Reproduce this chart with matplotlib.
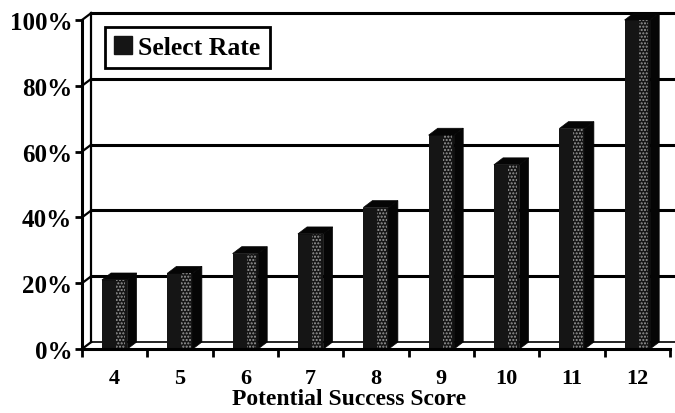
import matplotlib
matplotlib.use('Agg')
import matplotlib.pyplot as plt
from matplotlib.patches import Rectangle, Polygon, Patch

plt.rcParams['font.family'] = ['Liberation Serif', 'DejaVu Serif']
plt.rcParams['font.weight'] = 'bold'

scores = ['4', '5', '6', '7', '8', '9', '10', '11', '12']
select_rate = [21, 23, 29, 35, 43, 65, 56, 67, 100]
grid_levels = [0, 20, 40, 60, 80, 100]

# 3-D look: bar width and the depth offset of the back wall
w = 0.39
dx, dy = 0.14, 2.1

fig = plt.figure(figsize=(6.75, 4.14), dpi=100)
ax = fig.add_axes([82/675, 64/414, 588/675, 329/414])
n = len(scores)
ax.set_xlim(-0.5, n - 0.5)
ax.set_ylim(0, 100)

# back wall, left wall and floor
x0 = -0.5
for g in grid_levels:
    ax.plot([x0 + dx, n - 0.5 + dx + 0.3], [g + dy, g + dy], color='black',
            lw=2.2 if g else 1.2, clip_on=False, zorder=1)
    ax.plot([x0, x0 + dx], [g, g + dy], color='black', lw=1.6,
            clip_on=False, zorder=1)
ax.plot([x0 + dx, x0 + dx], [dy, 100 + dy], color='black', lw=1.6,
        clip_on=False, zorder=1)

# columns
for i, v in enumerate(select_rate):
    ax.add_patch(Rectangle((i - w/2, 0), w, v, fc='#151515', ec='none',
                           zorder=3))
    ax.add_patch(Rectangle((i + 0.02, 0), w/2 - 0.05, v, fc='none',
                           ec='#9a9a9a', lw=0, hatch='.....', zorder=4))
    ax.add_patch(Polygon([(i + w/2, 0), (i + w/2 + dx, dy),
                          (i + w/2 + dx, v + dy), (i + w/2, v)],
                         closed=True, fc='#050505', ec='#050505', lw=0.5,
                         zorder=3, clip_on=False))
    ax.add_patch(Polygon([(i - w/2, v), (i + w/2, v),
                          (i + w/2 + dx, v + dy), (i - w/2 + dx, v + dy)],
                         closed=True, fc='#050505', ec='#050505', lw=0.5,
                         zorder=3, clip_on=False))

for s in ['top', 'right']:
    ax.spines[s].set_visible(False)
for s in ['left', 'bottom']:
    ax.spines[s].set_linewidth(2.2)
    ax.spines[s].set_zorder(5)

ax.set_yticks(grid_levels)
ax.set_yticklabels([f'{g}%' for g in grid_levels])
ax.tick_params(axis='y', length=5, width=2, pad=2, labelsize=18)

ax.set_xticks(range(n))
ax.set_xticklabels(scores)
ax.set_xticks([k - 0.5 for k in range(n + 1)], minor=True)
ax.tick_params(axis='x', which='major', length=0, pad=14, labelsize=16)
ax.tick_params(axis='x', which='minor', length=6, width=2)

fig.text(349/675, 1 - 405/414, 'Potential Success Score', ha='center',
         va='baseline', fontsize=17, fontweight='bold')

leg = ax.legend(handles=[Patch(fc='#151515', ec='#151515')],
                labels=['Select Rate'], loc='upper left',
                bbox_to_anchor=(105/675, 1 - 28/414),
                bbox_transform=fig.transFigure, borderaxespad=0,
                fancybox=False, framealpha=1, edgecolor='black',
                handlelength=0.7, handleheight=0.7, handletextpad=0.25,
                borderpad=0.35, prop={'size': 18.5, 'weight': 'bold'})
leg.get_frame().set_linewidth(2)
leg.set_zorder(6)

fig.savefig('out.png', dpi=100)
